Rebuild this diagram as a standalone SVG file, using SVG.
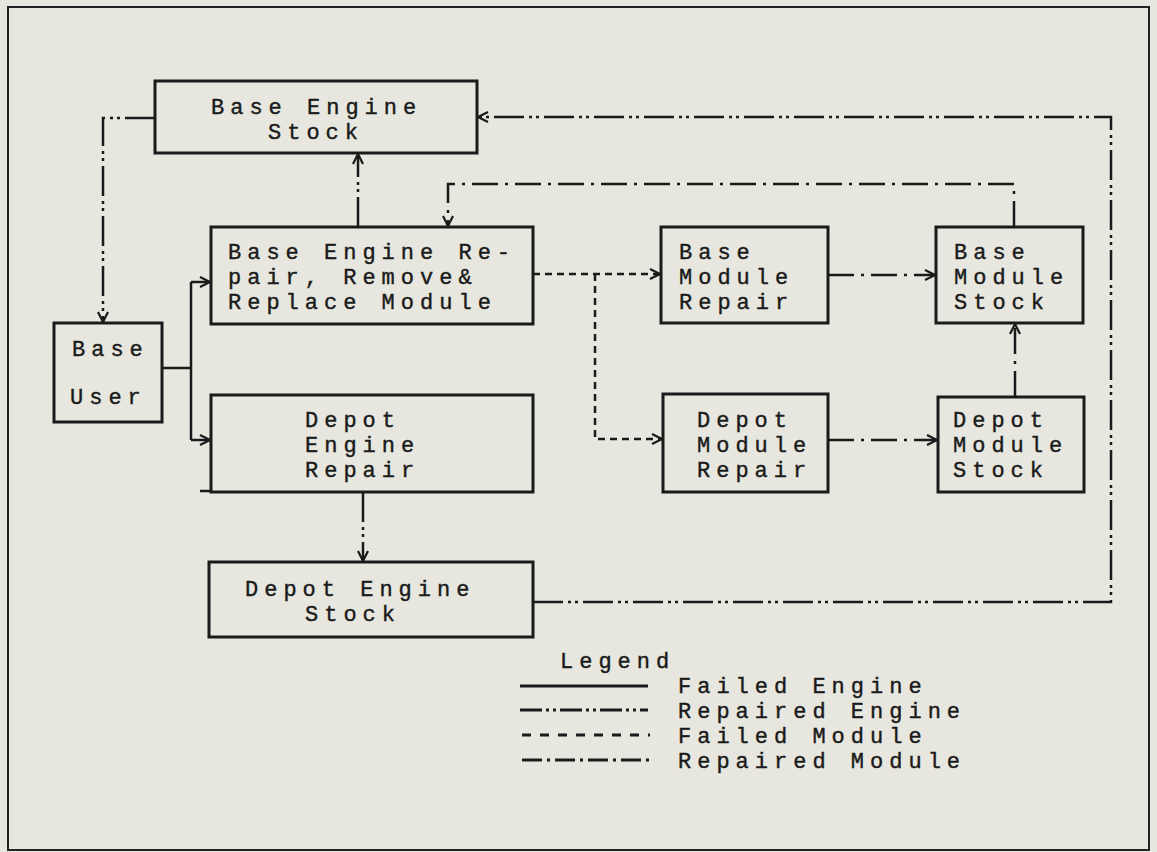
<svg xmlns="http://www.w3.org/2000/svg" width="1157" height="852" viewBox="0 0 1157 852">
<style>
.bg{fill:#e7e7df}
.frame{fill:none;stroke:#222;stroke-width:2}
.box{fill:none;stroke:#1a1a1a;stroke-width:3}
.t{font-family:"Liberation Mono","DejaVu Sans Mono",monospace;font-size:22px;letter-spacing:6px;fill:#1a1a1a;stroke:#1a1a1a;stroke-width:0.4}
.c{fill:none;stroke:#1a1a1a;stroke-width:2.5}
.fe{}
.re{stroke-dasharray:30 5 3 4 3 5}
.rm{stroke-dasharray:26 7 3 7}
.fm{stroke-dasharray:7 5}
.lg{fill:none;stroke:#1a1a1a;stroke-width:2.8}
</style>
<defs>
<marker id="ah" viewBox="0 0 12 12" markerWidth="12" markerHeight="12" refX="11" refY="6" orient="auto" markerUnits="userSpaceOnUse">
<path d="M1,1 L11,6 L1,11" fill="none" stroke="#1a1a1a" stroke-width="2.2" stroke-dasharray="none"/>
</marker>
</defs>
<rect class="bg" x="0" y="0" width="1157" height="852"/>
<rect class="frame" x="8" y="7" width="1141" height="843"/>

<g id="connectors">
<path class="c re" d="M155,118 H103 V322" marker-end="url(#ah)"/>
<path class="c re" d="M358,227 V154" marker-end="url(#ah)"/>
<path class="c rm" d="M1014,227 V184 H448 V226" marker-end="url(#ah)"/>
<path class="c re" d="M533,602 H1111 V117 H478" marker-end="url(#ah)"/>
<path class="c fe" d="M162,368 H191 M191,282 V440"/>
<path class="c fe" d="M191,282 H210" marker-end="url(#ah)"/>
<path class="c fe" d="M191,440 H210" marker-end="url(#ah)"/>
<path class="c fm" d="M533,274 H660" marker-end="url(#ah)"/>
<path class="c fm" d="M595,274 V439 H662" marker-end="url(#ah)"/>
<path class="c rm" d="M828,275 H935" marker-end="url(#ah)"/>
<path class="c rm" d="M828,440 H937" marker-end="url(#ah)"/>
<path class="c rm" d="M1015,397 V324" marker-end="url(#ah)"/>
<path class="c re" d="M363,492 V561" marker-end="url(#ah)"/>
</g>

<g id="base-engine-stock">
<rect class="box" x="155" y="81" width="322" height="72"/>
<text class="t"><tspan x="211" y="114">Base Engine</tspan><tspan x="268" y="139">Stock</tspan></text>
</g>

<g id="base-user">
<rect class="box" x="54" y="323" width="108" height="99"/>
<text class="t"><tspan x="72" y="356">Base</tspan><tspan x="70" y="404">User</tspan></text>
</g>

<g id="base-engine-repair">
<rect class="box" x="211" y="227" width="322" height="97"/>
<text class="t"><tspan x="228" y="259">Base Engine Re-</tspan><tspan x="228" y="284">pair, Remove&amp;</tspan><tspan x="228" y="309">Replace Module</tspan></text>
</g>

<g id="depot-engine-repair">
<rect class="box" x="211" y="395" width="322" height="97"/>
<path class="c" d="M200,491 H211"/>
<text class="t"><tspan x="305" y="427">Depot</tspan><tspan x="305" y="452">Engine</tspan><tspan x="305" y="477">Repair</tspan></text>
</g>

<g id="depot-engine-stock">
<rect class="box" x="209" y="562" width="324" height="75"/>
<text class="t"><tspan x="245" y="596">Depot Engine</tspan><tspan x="305" y="621">Stock</tspan></text>
</g>

<g id="base-module-repair">
<rect class="box" x="661" y="227" width="167" height="96"/>
<text class="t"><tspan x="679" y="259">Base</tspan><tspan x="679" y="284">Module</tspan><tspan x="679" y="309">Repair</tspan></text>
</g>

<g id="base-module-stock">
<rect class="box" x="936" y="227" width="147" height="96"/>
<text class="t"><tspan x="954" y="259">Base</tspan><tspan x="954" y="284">Module</tspan><tspan x="954" y="309">Stock</tspan></text>
</g>

<g id="depot-module-repair">
<rect class="box" x="663" y="394" width="165" height="98"/>
<text class="t"><tspan x="697" y="427">Depot</tspan><tspan x="697" y="452">Module</tspan><tspan x="697" y="477">Repair</tspan></text>
</g>

<g id="depot-module-stock">
<rect class="box" x="938" y="397" width="146" height="95"/>
<text class="t"><tspan x="953" y="427">Depot</tspan><tspan x="953" y="452">Module</tspan><tspan x="953" y="477">Stock</tspan></text>
</g>

<g id="legend">
<line class="lg" x1="520" y1="686" x2="648" y2="686"/>
<line class="lg" x1="520" y1="710" x2="648" y2="710" stroke-dasharray="22 4 3 4 3 4"/>
<line class="lg" x1="522" y1="735" x2="650" y2="735" stroke-dasharray="9 9"/>
<line class="lg" x1="522" y1="760" x2="650" y2="760" stroke-dasharray="20 5 3 5"/>
<text class="t"><tspan x="560" y="668">Legend</tspan><tspan x="678" y="693">Failed Engine</tspan><tspan x="678" y="718">Repaired Engine</tspan><tspan x="678" y="743">Failed Module</tspan><tspan x="678" y="768">Repaired Module</tspan></text>
</g>
</svg>
